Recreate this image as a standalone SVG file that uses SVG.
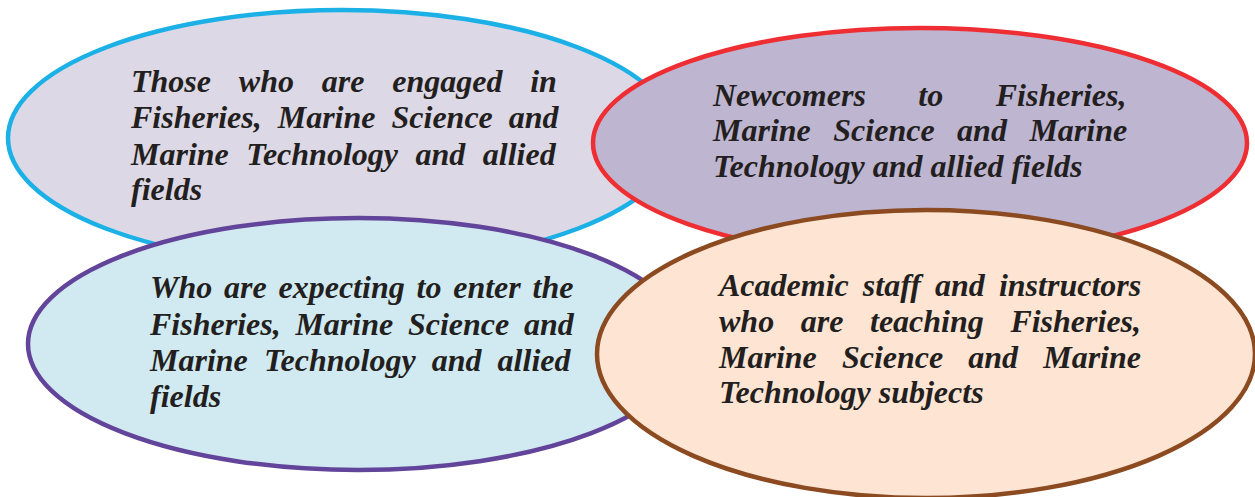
<svg xmlns="http://www.w3.org/2000/svg" width="1255" height="497" viewBox="0 0 1255 497">
<style>
  .shape { stroke-width: 4.5; }
  .label { font-family: "Liberation Serif", "Times New Roman", serif; font-weight: bold; font-style: italic; font-size: 32px; fill: #231F20; }
</style>
<rect width="1255" height="497" fill="#FFFFFF"/>
<g id="connectors"/>
<g id="node-engaged">
  <ellipse class="shape" cx="342" cy="138" rx="334" ry="128" fill="#DDD8E5" stroke="#1BB1E7"/>
  <text class="label">
    <tspan x="131" y="92" word-spacing="19.8">Those who are engaged in</tspan>
    <tspan x="131" y="128" word-spacing="8">Fisheries, Marine Science and</tspan>
    <tspan x="131" y="165" word-spacing="9.5">Marine Technology and allied</tspan>
    <tspan x="131" y="200">fields</tspan>
  </text>
</g>
<g id="node-newcomers">
  <ellipse class="shape" cx="920" cy="143" rx="327" ry="115" fill="#BEB5D1" stroke="#EE2E32"/>
  <text class="label">
    <tspan x="713" y="106" word-spacing="44.5">Newcomers to Fisheries,</tspan>
    <tspan x="713" y="141" word-spacing="14.5">Marine Science and Marine</tspan>
    <tspan x="713" y="177">Technology and allied fields</tspan>
  </text>
</g>
<g id="node-expecting">
  <ellipse class="shape" cx="358" cy="344" rx="330" ry="126" fill="#D1EAF1" stroke="#62449A"/>
  <text class="label">
    <tspan x="150" y="298" word-spacing="3.8">Who are expecting to enter the</tspan>
    <tspan x="150" y="335" word-spacing="6.7">Fisheries, Marine Science and</tspan>
    <tspan x="150" y="371" word-spacing="8.1">Marine Technology and allied</tspan>
    <tspan x="150" y="407">fields</tspan>
  </text>
</g>
<g id="node-academic">
  <ellipse class="shape" cx="926" cy="354" rx="329" ry="144" fill="#FDE4D3" stroke="#8B4A20"/>
  <text class="label">
    <tspan x="719" y="296" word-spacing="6.1">Academic staff and instructors</tspan>
    <tspan x="719" y="332" word-spacing="18.6">who are teaching Fisheries,</tspan>
    <tspan x="719" y="368" word-spacing="17.1">Marine Science and Marine</tspan>
    <tspan x="719" y="403">Technology subjects</tspan>
  </text>
</g>
</svg>
